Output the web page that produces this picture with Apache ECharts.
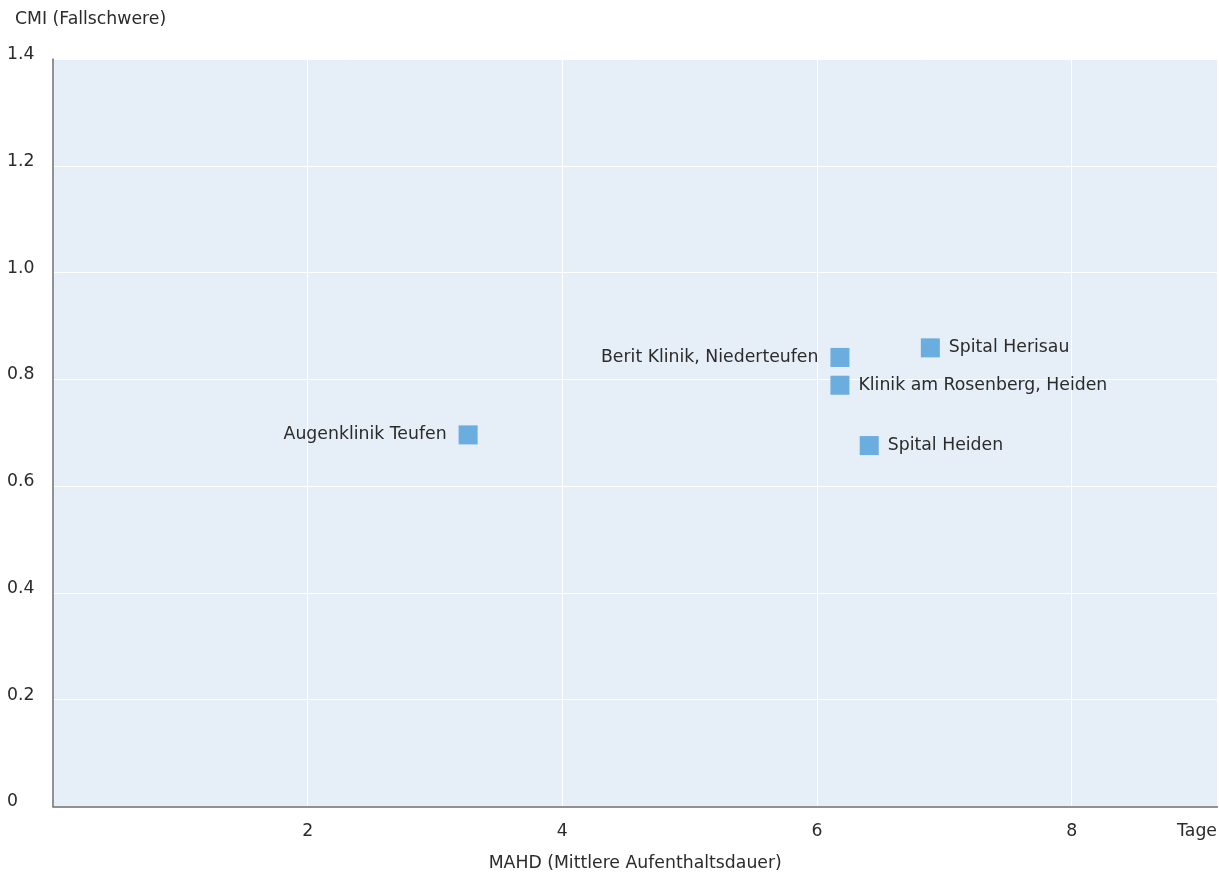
<!DOCTYPE html>
<html>
<head>
<meta charset="utf-8">
<script src="https://cdn.jsdelivr.net/npm/echarts@6/dist/echarts.min.js"></script>
<style>html,body{margin:0;padding:0;background:#fff}#c{width:1219px;height:872px}</style>
</head>
<body>
<div id="c"></div>
<script>
var names = ['Augenklinik Teufen', 'Berit Klinik, Niederteufen', 'Klinik am Rosenberg, Heiden', 'Spital Herisau', 'Spital Heiden'];
var mahd = [3.26, 6.18, 6.18, 6.89, 6.41];
var cmi = [0.696, 0.841, 0.789, 0.859, 0.676];
var labelSide = ['left', 'left', 'right', 'right', 'right'];
var xTicks = ['2', '4', '6', '8'];
var yTicks = ['0', '0.2', '0.4', '0.6', '0.8', '1.0', '1.2', '1.4'];

var FONT = 'DejaVu Sans';
var FS = 17.3;
var TXT = '#2b2b2b';
var chart = echarts.init(document.getElementById('c'));
var data = names.map(function (n, i) {
  return {
    name: n,
    value: [mahd[i], cmi[i]],
    label: { position: labelSide[i], distance: labelSide[i] === 'left' ? 12 : 9 }
  };
});
chart.setOption({
  animation: false,
  textStyle: { fontFamily: FONT },
  title: {
    text: 'CMI (Fallschwere)', left: 10, top: 6,
    textStyle: { fontFamily: FONT, fontSize: FS, fontWeight: 'normal', color: TXT }
  },
  graphic: [{
    type: 'text', right: 2, top: 823,
    style: { text: 'Tage', fontFamily: FONT, fontSize: FS, fill: TXT }
  }],
  grid: {
    left: 53, right: 1.5, top: 59, bottom: 65.5,
    outerBoundsMode: 'none', containLabel: false,
    show: true, backgroundColor: '#e6eef8', borderWidth: 0
  },
  xAxis: {
    type: 'value', min: 0, max: 9.145, interval: 2,
    name: 'MAHD (Mittlere Aufenthaltsdauer)', nameLocation: 'middle', nameGap: 49,
    nameTextStyle: { fontFamily: FONT, fontSize: FS, color: TXT },
    axisLine: { show: true, lineStyle: { color: '#6e6e6e', width: 1.5 } },
    axisTick: { show: false },
    axisLabel: {
      fontFamily: FONT, fontSize: FS, color: TXT, margin: 17, showMaxLabel: false,
      formatter: function (v) {
        var s = String(v);
        return xTicks.indexOf(s) >= 0 ? s : '';
      }
    },
    splitLine: { show: true, lineStyle: { color: '#ffffff', width: 1 } }
  },
  yAxis: {
    type: 'value', min: 0, max: 1.4, interval: 0.2,
    axisLine: { show: true, lineStyle: { color: '#6e6e6e', width: 1.5 } },
    axisTick: { show: false },
    axisLabel: {
      fontFamily: FONT, fontSize: FS, color: TXT, align: 'left', margin: 46,
      verticalAlign: 'bottom', lineHeight: 9,
      formatter: function (v) {
        var idx = Math.round(v / 0.2);
        return yTicks[idx] !== undefined ? yTicks[idx] : '';
      }
    },
    splitLine: { show: true, lineStyle: { color: '#ffffff', width: 1 } }
  },
  series: [{
    type: 'scatter',
    symbol: 'rect',
    symbolSize: 19,
    itemStyle: { color: '#6aaddf', opacity: 1 },
    label: {
      show: true, formatter: '{b}', fontFamily: FONT, fontSize: FS, color: TXT
    },
    data: data
  }]
});
</script>
</body>
</html>
